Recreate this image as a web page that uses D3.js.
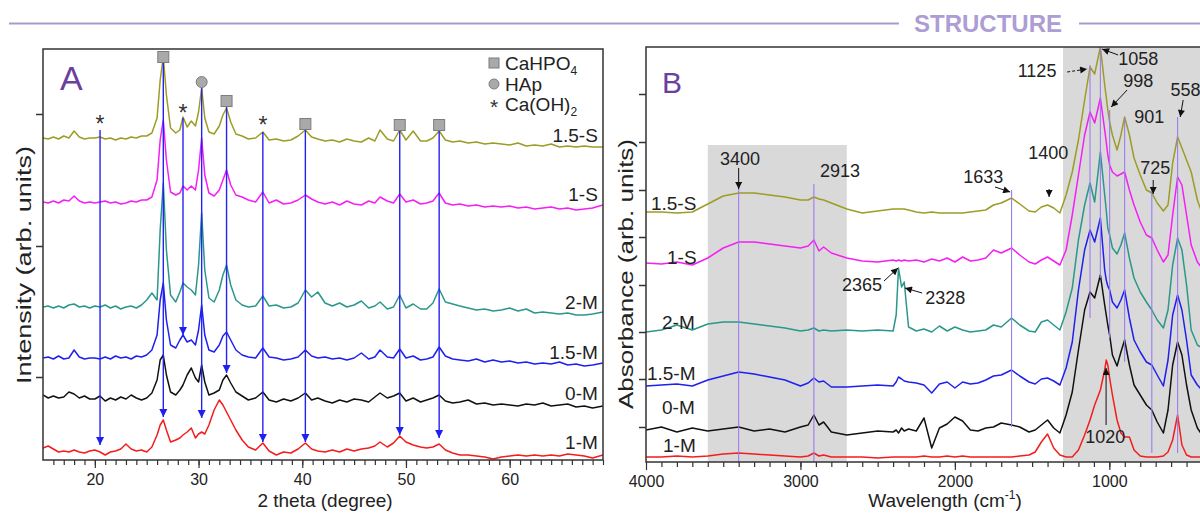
<!DOCTYPE html>
<html><head><meta charset="utf-8">
<script src="https://cdn.jsdelivr.net/npm/d3@7"></script>
<style>
body{margin:0;background:#fff;}
svg{display:block;font-family:"Liberation Sans",Arial,sans-serif;}
</style></head><body>
<svg id="chart" width="1200" height="516"></svg>
<script>
// ---------------- Panel A: XRD ----------------
const xrdAngle = [
 15,15.5,16,16.5,17,17.5,18,18.5,19,19.5,
 20,20.5,21,21.5,22,22.5,23,23.5,24,24.5,
 25,25.5,26,26.3,26.6,26.9,27.3,27.8,28.2,28.5,
 28.9,29.3,29.7,30,30.3,30.6,31,31.5,32,32.35,
 32.7,33.1,33.6,34.2,34.8,35.5,36.2,36.8,37.5,38.2,
 38.9,39.6,40.3,40.9,41.5,42.2,42.9,43.6,44.3,45,
 45.7,46.4,47,47.5,48.2,48.8,49.4,50,50.7,51.4,
 52,52.6,53.2,53.8,54.5,55.2,56,56.8,57.6,58.4,
 59.2,60,60.8,61.6,62.4,63.2,64,64.8,65.6,66.4,
 67.2,68,69];
const xrd_15S = [
 322,321,323,321,324,322,329,323,321,322,
 322,323,321,322,320,322,321,323,322,324,
 324,327,342,380,403,365,332,327,330,343,
 333,339,334,348,372,342,328,326,334,345,
 352,338,326,324,321,322,328,320,321,319,
 320,324,330,323,321,319,320,318,321,319,
 318,322,319,330,321,319,330,320,329,319,
 319,322,329,320,318,319,317,318,316,317,
 316,315,317,314,315,314,316,313,314,313,
 314,313,313];
const xrd_1S = [
 258,257,259,257,260,259,264,259,257,258,
 257,258,259,257,258,256,257,259,258,260,
 260,263,280,320,340,300,268,265,267,274,
 270,274,270,290,322,285,267,264,270,280,
 290,275,265,263,260,258,268,257,260,256,
 257,260,265,261,258,256,258,255,259,256,
 255,259,257,263,259,257,266,258,260,256,
 257,259,267,257,255,256,254,255,253,254,
 253,254,252,253,251,252,253,251,252,250,
 251,252,255];
const xrd_2M = [
 153,154,152,154,152,155,156,153,154,152,
 154,153,155,152,154,151,153,154,152,155,
 160,167,160,230,277,210,165,158,168,177,
 173,170,165,195,247,190,162,158,170,185,
 195,175,160,155,153,154,164,154,155,152,
 153,157,170,163,168,157,154,157,153,155,
 159,152,154,158,151,153,165,152,156,151,
 151,157,171,158,156,154,152,150,151,149,
 150,152,149,151,147,148,147,146,147,145,
 145,146,148];
const xrd_15M = [
 102,103,101,104,101,102,110,103,101,102,
 102,101,103,101,104,102,103,101,104,103,
 105,110,125,160,177,140,115,112,120,125,
 118,120,115,130,155,125,110,108,115,124,
 128,120,110,105,103,102,112,103,102,100,
 101,103,110,104,102,103,101,102,100,102,
 107,101,103,110,103,102,111,102,104,100,
 101,103,113,104,101,100,99,101,98,100,
 98,99,97,98,96,97,96,98,95,96,
 94,95,97];
const xrd_0M = [
 65,62,64,62,63,68,66,62,64,61,
 61,64,59,62,60,63,61,65,62,60,
 62,67,80,100,105,85,68,65,70,75,
 85,92,82,78,95,78,65,67,70,80,
 85,77,68,64,60,62,68,60,58,61,
 59,62,67,60,62,59,57,60,58,61,
 60,58,63,67,62,64,67,59,62,58,
 60,62,65,59,57,58,60,56,57,55,
 56,55,54,56,55,57,54,55,56,53,
 54,52,54];
const xrd_1M = [
 12,14,11,8,9,8,10,8,7,9,
 10,8,5,8,9,11,16,11,9,10,
 8,13,25,35,40,30,18,20,22,25,
 28,32,22,26,28,26,35,50,60,55,
 48,40,30,20,13,10,17,9,5,8,
 7,11,17,11,9,8,10,8,11,9,
 11,12,14,18,13,17,24,18,15,13,
 12,13,16,10,7,5,5,4,3,1,
 3,4,5,4,5,4,5,4,6,5,
 4,2,5];
const sampleNames = ["1.5-S","1-S","2-M","1.5-M","0-M","1-M"];
const sampleColors = ["#9c9c26","#f51ef5","#2a978b","#1f1ff0","#111111","#f41c1c"];
const xrdLabelY = [325,266,158,108,67,18];
const xrdTickY = [83,214,346];
const xrdMajorTicks = [20,30,40,50,60];
// reference lines (angle, top value, arrow tip value)
const xrdLinePos = [20.5,26.6,28.5,30.3,32.7,36.2,40.3,49.4,53.2];
const xrdLineTop = [330,400,342,372,353,328,331,330,330];
const xrdLineTip = [15,43,125,42,87,18,18,25,22];
const phaseSquares = [[26.6,403],[32.7,359],[40.3,336],[49.4,335],[53.2,335]];
const phaseCircles = [[30.3,378]];
const phaseStars = [[20.5,339],[28.5,350],[36.2,338]];

// ---------------- Panel B: FTIR ----------------
const wn = [
 4000,3900,3800,3700,3600,3500,3400,3300,3200,3100,
 3000,2950,2913,2880,2850,2800,2700,2600,2500,2400,
 2380,2365,2345,2328,2300,2250,2200,2150,2100,2050,
 2000,1950,1900,1850,1800,1750,1700,1633,1580,1520,
 1480,1440,1400,1360,1320,1280,1240,1200,1160,1125,
 1095,1058,1030,1020,1010,998,980,950,925,901,
 870,840,800,760,725,690,650,620,590,558,
 530,500,470,430,400];
const ir_15S = [
 250,250,249,250,258,266,269,269,267,265,
 262,262,265,263,262,259,253,249,251,253,
 253,253,253,253,252,250,249,250,249,249,
 249,249,250,251,252,257,259,264,258,251,
 250,255,257,254,249,267,290,322,362,395,
 388,415,377,365,352,340,327,312,327,345,
 327,304,287,272,269,259,251,257,299,325,
 314,302,290,262,249];
const ir_1S = [
 199,198,200,197,204,214,220,220,218,216,
 214,216,222,211,215,209,204,201,200,202,
 201,202,201,202,201,202,200,203,201,204,
 200,205,201,202,204,212,209,214,207,200,
 198,202,205,201,197,212,247,287,327,350,
 339,364,332,320,307,297,290,286,288,290,
 272,257,240,227,224,212,200,207,247,285,
 277,247,217,200,194];
const ir_2M = [
 130,132,137,132,138,140,140,138,136,134,
 131,132,134,131,132,131,132,131,132,131,
 147,194,175,180,135,131,133,130,136,131,
 135,132,130,131,132,137,135,144,137,131,
 130,140,142,137,132,150,174,222,257,279,
 260,310,267,252,234,227,214,208,217,229,
 204,184,170,160,152,142,134,152,197,224,
 212,177,132,117,114];
const ir_15M = [
 76,77,78,76,82,86,90,88,85,82,
 76,79,84,80,81,75,75,76,77,76,
 80,85,83,81,80,79,77,69,78,80,
 74,80,78,79,82,86,87,92,86,80,
 78,83,84,81,77,94,120,172,212,232,
 220,244,192,182,176,172,160,154,162,172,
 144,122,110,100,97,87,76,102,147,167,
 152,122,87,77,72];
const ir_0M = [
 32,35,30,34,31,33,35,31,33,30,
 35,37,47,37,40,30,27,29,31,30,
 32,29,34,31,33,31,44,14,34,38,
 45,41,32,31,34,35,39,37,35,30,
 32,37,42,34,29,47,70,112,152,170,
 164,187,157,147,137,127,107,96,110,122,
 97,77,67,57,52,40,29,52,97,120,
 107,77,52,34,27];
const ir_1M = [
 5,5,6,5,6,8,9,8,7,6,
 5,6,9,6,7,5,5,5,4,5,
 5,5,5,5,5,5,6,5,5,6,
 5,6,5,5,5,5,5,5,6,7,
 10,20,28,14,7,5,5,12,27,42,
 57,72,92,102,97,84,67,42,29,25,
 25,12,6,5,5,5,6,10,22,47,
 17,7,5,5,5];
const irLabelX = [3968,3864,3896,3994,3896,3890];
const irLabelY = [259,205,140,89,55,17];
const irTickY = [35,83,130,177,225,272,320,368];
const irMajorTicks = [4000,3000,2000,1000];
const shadeBands = [[3600,2700,317],[1300,400,415]];
// vertical guide lines: [wavenumber, top, bottom]
const irGuides = [[3400,278,0],[2913,278,0],[1633,272,35],[1125,397,144],[1058,415,184],[998,352,124],[901,345,100],[725,274,9],[558,345,9]];
// annotations: label, text position, text anchor, arrow from -> to
const irNotes = [
 {t:"3400", x:3391, y:303, a:[3400,294,3400,273]},
 {t:"2913", x:2744, y:291, a:null},
 {t:"1633", x:1817, y:285, a:[1740,275,1642,270]},
 {t:"1400", x:1396, y:309, a:[1390,273,1390,265]},
 {t:"1125", x:1468, y:391, a:[1273,390,1144,393], dash:true},
 {t:"1058", x:813, y:403, a:[943,407,1047,413]},
 {t:"998", x:813, y:381, a:[885,372,988,355]},
 {t:"901", x:742, y:345, a:null},
 {t:"725", x:703, y:294, a:[716,282,716,268]},
 {t:"558", x:410, y:372, a:[522,362,541,345], end:true},
 {t:"2365", x:2601, y:177, a:[2459,181,2368,194]},
 {t:"2328", x:2063, y:164, a:[2212,169,2323,174]},
 {t:"1020", x:1027, y:25, a:[1021,37,1021,94]}
];

// ================= drawing =================
const svg = d3.select("#chart");
const defs = svg.append("defs");
defs.append("marker").attr("id","arrBlue").attr("viewBox","0 0 10 10")
  .attr("refX",10).attr("refY",5).attr("markerUnits","userSpaceOnUse")
  .attr("markerWidth",8).attr("markerHeight",10).attr("orient","auto")
  .append("path").attr("d","M0,0L10,5L0,10z").attr("fill","#1f1ff0");
defs.append("marker").attr("id","arrBlack").attr("viewBox","0 0 10 10")
  .attr("refX",10).attr("refY",5).attr("markerUnits","userSpaceOnUse")
  .attr("markerWidth",8).attr("markerHeight",7).attr("orient","auto")
  .append("path").attr("d","M0,0L10,5L0,10z").attr("fill","#111");

// header band
svg.append("line").attr("x1",9).attr("x2",899).attr("y1",23.5).attr("y2",23.5)
  .attr("stroke","#a99bcb").attr("stroke-width",2);
svg.append("line").attr("x1",1079).attr("x2",1200).attr("y1",23.5).attr("y2",23.5)
  .attr("stroke","#a99bcb").attr("stroke-width",2);
svg.append("text").attr("x",988).attr("y",32).attr("text-anchor","middle")
  .attr("font-size",24).attr("font-weight","bold").attr("fill","#ad9dd4").text("STRUCTURE");

// ---------- Panel A ----------
const xA = d3.scaleLinear().domain([15,69]).range([43,603]);
const yA = d3.scaleLinear().domain([0,411]).range([460,49]);
defs.append("clipPath").attr("id","clipA").append("rect")
  .attr("x",43).attr("y",49).attr("width",560).attr("height",411);
const gA = svg.append("g");
const pA = gA.append("g").attr("clip-path","url(#clipA)");
const xrdSeries = [xrd_15S,xrd_1S,xrd_2M,xrd_15M,xrd_0M,xrd_1M];
const lineA = d3.line().x(d=>xA(d[0])).y(d=>yA(d[1]));
xrdSeries.forEach((vals,i)=>{
  pA.append("path").datum(vals.map((v,j)=>[xrdAngle[j],v]))
    .attr("d",lineA).attr("fill","none").attr("stroke",sampleColors[i]).attr("stroke-width",1.5)
    .attr("stroke-linejoin","round");
});
xrdLinePos.forEach((p,i)=>{
  pA.append("line").attr("x1",xA(p)).attr("x2",xA(p))
    .attr("y1",yA(xrdLineTop[i])).attr("y2",yA(xrdLineTip[i]))
    .attr("stroke","#2323f2").attr("stroke-width",1.4).attr("marker-end","url(#arrBlue)");
});
phaseSquares.forEach(d=>{
  gA.append("rect").attr("x",xA(d[0])-5.5).attr("y",yA(d[1])-5.5).attr("width",11).attr("height",11)
    .attr("fill","#a9a9a9").attr("stroke","#7d7d7d").attr("stroke-width",1);
});
phaseCircles.forEach(d=>{
  gA.append("circle").attr("cx",xA(d[0])).attr("cy",yA(d[1])).attr("r",5.5)
    .attr("fill","#a9a9a9").attr("stroke","#7d7d7d").attr("stroke-width",1);
});
phaseStars.forEach(d=>{
  gA.append("text").attr("x",xA(d[0])).attr("y",yA(d[1])+11).attr("text-anchor","middle")
    .attr("font-size",23).attr("fill","#333").text("*");
});
sampleNames.forEach((n,i)=>{
  gA.append("text").attr("x",xA(68.5)).attr("y",yA(xrdLabelY[i])).attr("dy","0.35em")
    .attr("text-anchor","end").attr("font-size",19).attr("fill","#222").text(n);
});
// legend
const leg = gA.append("g").attr("font-size",19).attr("fill","#222");
leg.append("rect").attr("x",489).attr("y",58).attr("width",10).attr("height",10).attr("fill","#a9a9a9").attr("stroke","#7d7d7d");
const t1 = leg.append("text").attr("x",505).attr("y",70);
t1.append("tspan").text("CaHPO");
t1.append("tspan").attr("font-size",12).attr("dy",5).text("4");
leg.append("circle").attr("cx",494).attr("cy",84).attr("r",5).attr("fill","#a9a9a9").attr("stroke","#7d7d7d");
leg.append("text").attr("x",505).attr("y",91).text("HAp");
leg.append("text").attr("x",494).attr("y",114).attr("text-anchor","middle").attr("font-size",21).attr("fill","#333").text("*");
const t3 = leg.append("text").attr("x",505).attr("y",111);
t3.append("tspan").text("Ca(OH)");
t3.append("tspan").attr("font-size",12).attr("dy",5).text("2");
// axes A
gA.append("g").attr("transform","translate(0,460)")
  .call(d3.axisBottom(xA).tickValues(d3.range(16,70)).tickSize(5).tickFormat(""))
  .call(g=>g.select(".domain").remove()).call(g=>g.selectAll("line").attr("stroke","#333").attr("stroke-width",1.2));
gA.append("g").attr("transform","translate(0,460)")
  .call(d3.axisBottom(xA).tickValues(xrdMajorTicks).tickSize(8).tickPadding(6).tickFormat(d3.format("d")))
  .call(g=>g.select(".domain").remove()).call(g=>g.selectAll("line").attr("stroke","#333").attr("stroke-width",1.2))
  .call(g=>g.selectAll("text").attr("font-size",16).attr("fill","#222").attr("font-family","Liberation Sans, Arial, sans-serif"));
gA.append("g").attr("transform","translate(43,0)")
  .call(d3.axisLeft(yA).tickValues(xrdTickY).tickSize(7).tickFormat(""))
  .call(g=>g.select(".domain").remove()).call(g=>g.selectAll("line").attr("stroke","#333").attr("stroke-width",1.5));
gA.append("rect").attr("x",43).attr("y",49).attr("width",560).attr("height",411)
  .attr("fill","none").attr("stroke","#333").attr("stroke-width",1.5);
gA.append("text").attr("x",325).attr("y",507).attr("text-anchor","middle").attr("font-size",19).attr("fill","#222").text("2 theta (degree)");
gA.append("text").attr("transform","translate(31,265) rotate(-90)").attr("text-anchor","middle")
  .attr("font-size",21).attr("textLength",238).attr("lengthAdjust","spacingAndGlyphs")
  .attr("fill","#222").text("Intensity (arb. units)");
gA.append("text").attr("x",60).attr("y",90).attr("font-size",34).attr("fill","#6b3fa0").text("A");

// ---------- Panel B ----------
const xB = d3.scaleLinear().domain([4000,400]).range([646,1202]);
const yB = d3.scaleLinear().domain([0,415]).range([462,47]);
defs.append("clipPath").attr("id","clipB").append("rect")
  .attr("x",646).attr("y",47).attr("width",600).attr("height",415);
const gB = svg.append("g");
const pB = gB.append("g").attr("clip-path","url(#clipB)");
shadeBands.forEach(b=>{
  pB.append("rect").attr("x",xB(b[0])).attr("width",xB(b[1])-xB(b[0]))
    .attr("y",yB(b[2])).attr("height",yB(0)-yB(b[2])).attr("fill","#d9d9d9");
});
const irSeries = [ir_15S,ir_1S,ir_2M,ir_15M,ir_0M,ir_1M];
const lineB = d3.line().x(d=>xB(d[0])).y(d=>yB(d[1]));
irSeries.forEach((vals,i)=>{
  pB.append("path").datum(vals.map((v,j)=>[wn[j],v]))
    .attr("d",lineB).attr("fill","none").attr("stroke",sampleColors[i]).attr("stroke-width",1.5)
    .attr("stroke-linejoin","round");
});
irGuides.forEach(g=>{
  pB.append("line").attr("x1",xB(g[0])).attr("x2",xB(g[0])).attr("y1",yB(g[1])).attr("y2",yB(g[2]))
    .attr("stroke","#9b7cf0").attr("stroke-width",1.1);
});
irNotes.forEach(n=>{
  gB.append("text").attr("x",xB(n.x)).attr("y",yB(n.y)).attr("dy","0.35em")
    .attr("text-anchor",n.end?"end":"middle")
    .attr("font-size",18).attr("fill","#222").text(n.t);
  if(n.a){
    gB.append("line").attr("x1",xB(n.a[0])).attr("y1",yB(n.a[1])).attr("x2",xB(n.a[2])).attr("y2",yB(n.a[3]))
      .attr("stroke","#111").attr("stroke-width",1).attr("stroke-dasharray",n.dash?"3,2":null)
      .attr("marker-end","url(#arrBlack)");
  }
});
sampleNames.forEach((n,i)=>{
  gB.append("text").attr("x",xB(irLabelX[i])).attr("y",yB(irLabelY[i])).attr("dy","0.35em")
    .attr("font-size",19).attr("fill","#222").text(n);
});
gB.append("g").attr("transform","translate(0,462)")
  .call(d3.axisBottom(xB).tickValues(d3.range(3900,400,-100)).tickSize(5).tickFormat(""))
  .call(g=>g.select(".domain").remove()).call(g=>g.selectAll("line").attr("stroke","#333").attr("stroke-width",1.2));
gB.append("g").attr("transform","translate(0,462)")
  .call(d3.axisBottom(xB).tickValues(irMajorTicks).tickSize(8).tickPadding(6).tickFormat(d3.format("d")))
  .call(g=>g.select(".domain").remove()).call(g=>g.selectAll("line").attr("stroke","#333").attr("stroke-width",1.2))
  .call(g=>g.selectAll("text").attr("font-size",16).attr("fill","#222").attr("font-family","Liberation Sans, Arial, sans-serif"));
gB.append("g").attr("transform","translate(646,0)")
  .call(d3.axisLeft(yB).tickValues(irTickY).tickSize(7).tickFormat(""))
  .call(g=>g.select(".domain").remove()).call(g=>g.selectAll("line").attr("stroke","#333").attr("stroke-width",1.5));
gB.append("rect").attr("x",646).attr("y",47).attr("width",600).attr("height",415)
  .attr("fill","none").attr("stroke","#333").attr("stroke-width",1.5);
const tw = gB.append("text").attr("x",945).attr("y",507).attr("text-anchor","middle").attr("font-size",19).attr("fill","#222");
tw.append("tspan").text("Wavelength (cm");
tw.append("tspan").attr("font-size",12).attr("dy",-8).text("-1");
tw.append("tspan").attr("dy",8).text(")");
gB.append("text").attr("transform","translate(633,274) rotate(-90)").attr("text-anchor","middle")
  .attr("font-size",21).attr("textLength",270).attr("lengthAdjust","spacingAndGlyphs")
  .attr("fill","#222").text("Absorbance (arb. units)");
gB.append("text").attr("x",662).attr("y",93).attr("font-size",30).attr("fill","#6b3fa0").text("B");
</script>
</body></html>
